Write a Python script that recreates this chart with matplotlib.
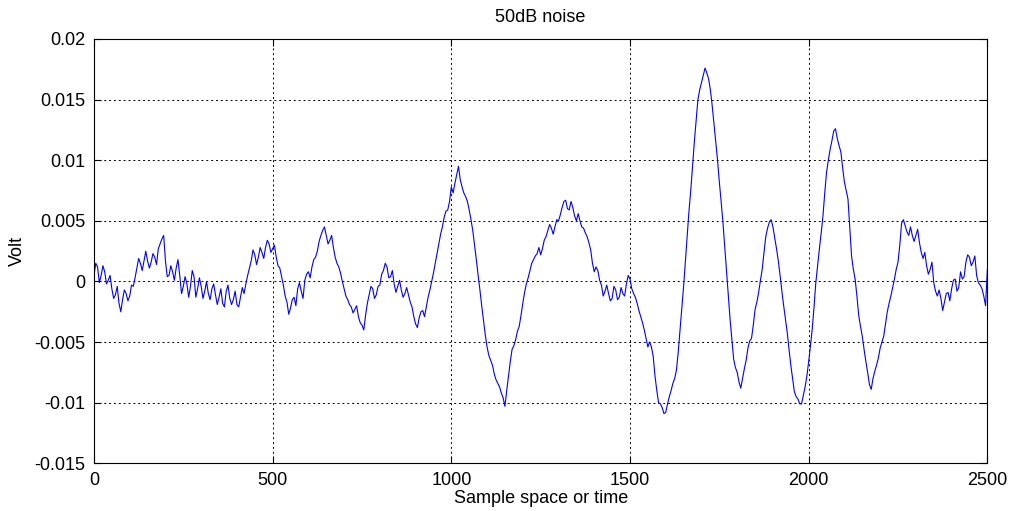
import numpy as np
import matplotlib
matplotlib.use("Agg")
import matplotlib.pyplot as plt

plt.rcParams['font.family'] = ['Liberation Sans', 'DejaVu Sans']

# Signal values (V) at samples 0, 10, 20, ..., 2500
volts_even = [
    # 0 - 400
    0.0005, 0.0012, 0.0005, 0.0008, 0.0001, -0.0006, -0.0011, -0.0018, -0.0015, -0.0010,
    -0.0012, -0.0004, 0.0011, 0.0015, 0.0017, 0.0017, 0.0016, 0.0020, 0.0027, 0.0035,
    0.0017, 0.0005, 0.0008, 0.0011, 0.0005, -0.0004, -0.0002, -0.0004, 0.0004, -0.0006,
    -0.0004, -0.0008, -0.0010, -0.0006, -0.0011, -0.0013, -0.0018, -0.0008, -0.0014, -0.0015,
    # 400 - 800
    -0.0019, -0.0013, -0.0010, 0.0005, 0.0017, 0.0022, 0.0020, 0.0024, 0.0028, 0.0031,
    0.0027, 0.0020, 0.0011, -0.0003, -0.0017, -0.0022, -0.0013, -0.0006, -0.0008, 0.0001,
    0.0008, 0.0012, 0.0020, 0.0033, 0.0042, 0.0038, 0.0034, 0.0028, 0.0015, 0.0007,
    -0.0006, -0.0015, -0.0021, -0.0023, -0.0029, -0.0036, -0.0028, -0.0011, -0.0006, -0.0011,
    # 800 - 1200
    -0.0003, 0.0009, 0.0012, 0.0004, -0.0002, -0.0004, -0.0007, -0.0010, -0.0011, -0.0021,
    -0.0035, -0.0030, -0.0024, -0.0021, -0.0007, 0.0007, 0.0023, 0.0039, 0.0053, 0.0059,
    0.0078, 0.0081, 0.0095, 0.0078, 0.0070, 0.0059, 0.0042, 0.0018, -0.0007, -0.0032,
    -0.0054, -0.0065, -0.0076, -0.0084, -0.0092, -0.0103, -0.0078, -0.0056, -0.0048, -0.0037,
    # 1200 - 1600
    -0.0018, -0.0002, 0.0009, 0.0018, 0.0023, 0.0022, 0.0034, 0.0042, 0.0044, 0.0045,
    0.0050, 0.0061, 0.0067, 0.0059, 0.0061, 0.0050, 0.0050, 0.0044, 0.0037, 0.0026,
    0.0008, 0.0009, -0.0003, -0.0008, -0.0010, -0.0014, -0.0007, -0.0013, -0.0010, -0.0002,
    0.0002, -0.0010, -0.0018, -0.0029, -0.0040, -0.0054, -0.0054, -0.0078, -0.0100, -0.0104,
    # 1600 - 2000
    -0.0108, -0.0095, -0.0084, -0.0073, -0.0040, -0.0004, 0.0039, 0.0075, 0.0115, 0.0150,
    0.0164, 0.0176, 0.0167, 0.0145, 0.0115, 0.0082, 0.0049, 0.0008, -0.0031, -0.0064,
    -0.0075, -0.0088, -0.0072, -0.0055, -0.0047, -0.0023, -0.0009, 0.0010, 0.0037, 0.0049,
    0.0045, 0.0027, 0.0005, -0.0020, -0.0042, -0.0069, -0.0091, -0.0097, -0.0101, -0.0087,
    # 2000 - 2500
    -0.0066, -0.0039, -0.0001, 0.0027, 0.0054, 0.0090, 0.0109, 0.0124, 0.0118, 0.0107,
    0.0082, 0.0068, 0.0021, 0.0002, -0.0028, -0.0045, -0.0066, -0.0085, -0.0080, -0.0069,
    -0.0055, -0.0045, -0.0025, -0.0012, 0.0002, 0.0016, 0.0048, 0.0046, 0.0038, 0.0038,
    0.0038, 0.0032, 0.0019, 0.0013, 0.0010, -0.0001, -0.0012, -0.0014, -0.0017, -0.0009,
    -0.0006, 0.0002, -0.0005, 0.0002, 0.0016, 0.0020, 0.0016, 0.0005, -0.0003, -0.0012,
    0.0010,
]

# Signal values (V) at samples 5, 15, 25, ..., 2495
volts_odd = [
    # 5 - 395
    0.0015, -0.0001, 0.0013, -0.0002, 0.0005, -0.0014, -0.0004, -0.0025, -0.0007, -0.0016,
    -0.0003, 0.0003, 0.0019, 0.0009, 0.0025, 0.0011, 0.0023, 0.0014, 0.0031, 0.0038,
    0.0004, 0.0013, 0.0001, 0.0018, -0.0010, 0.0004, -0.0013, 0.0009, -0.0013, 0.0003,
    -0.0014, 0.0000, -0.0015, -0.0002, -0.0019, -0.0006, -0.0021, -0.0003, -0.0019, -0.0008,
    # 405 - 795
    -0.0021, -0.0005, -0.0002, 0.0011, 0.0026, 0.0014, 0.0028, 0.0019, 0.0034, 0.0024,
    0.0030, 0.0013, 0.0004, -0.0012, -0.0027, -0.0015, -0.0020, -0.0001, -0.0014, 0.0006,
    0.0003, 0.0018, 0.0025, 0.0038, 0.0045, 0.0031, 0.0038, 0.0020, 0.0012, 0.0000,
    -0.0012, -0.0019, -0.0026, -0.0020, -0.0034, -0.0040, -0.0018, -0.0004, -0.0014, -0.0004,
    # 805 - 1195
    0.0006, 0.0015, 0.0003, 0.0009, -0.0009, 0.0001, -0.0013, -0.0005, -0.0017, -0.0029,
    -0.0038, -0.0025, -0.0029, -0.0013, 0.0000, 0.0015, 0.0031, 0.0045, 0.0058, 0.0066,
    0.0073, 0.0088, 0.0084, 0.0073, 0.0066, 0.0051, 0.0030, 0.0005, -0.0020, -0.0044,
    -0.0061, -0.0069, -0.0081, -0.0087, -0.0096, -0.0090, -0.0066, -0.0053, -0.0041, -0.0028,
    # 1205 - 1595
    -0.0009, 0.0003, 0.0015, 0.0021, 0.0028, 0.0027, 0.0037, 0.0047, 0.0039, 0.0051,
    0.0055, 0.0066, 0.0060, 0.0066, 0.0054, 0.0056, 0.0045, 0.0040, 0.0032, 0.0015,
    0.0012, 0.0001, -0.0012, -0.0003, -0.0016, -0.0004, -0.0015, -0.0005, -0.0012, 0.0005,
    -0.0006, -0.0013, -0.0024, -0.0034, -0.0047, -0.0050, -0.0062, -0.0090, -0.0101, -0.0109,
    # 1605 - 1995
    -0.0101, -0.0090, -0.0080, -0.0058, -0.0021, 0.0017, 0.0058, 0.0095, 0.0133, 0.0158,
    0.0170, 0.0172, 0.0158, 0.0130, 0.0100, 0.0066, 0.0029, -0.0012, -0.0048, -0.0071,
    -0.0083, -0.0080, -0.0065, -0.0049, -0.0036, -0.0017, 0.0001, 0.0024, 0.0044, 0.0051,
    0.0036, 0.0017, -0.0008, -0.0031, -0.0056, -0.0080, -0.0095, -0.0101, -0.0094, -0.0078,
    # 2005 - 2495
    -0.0053, -0.0021, 0.0013, 0.0040, 0.0073, 0.0100, 0.0116, 0.0126, 0.0112, 0.0094,
    0.0075, 0.0045, 0.0010, -0.0012, -0.0037, -0.0056, -0.0075, -0.0089, -0.0074, -0.0063,
    -0.0050, -0.0035, -0.0018, -0.0005, 0.0010, 0.0030, 0.0051, 0.0041, 0.0045, 0.0033,
    0.0043, 0.0024, 0.0024, 0.0006, 0.0016, -0.0008, -0.0007, -0.0024, -0.0010, -0.0016,
    0.0001, -0.0008, 0.0008, 0.0004, 0.0022, 0.0013, 0.0021, -0.0001, -0.0006, -0.0020,
]

x_ticks = [0, 500, 1000, 1500, 2000, 2500]
y_ticks = [-0.015, -0.01, -0.005, 0, 0.005, 0.01, 0.015, 0.02]
y_tick_labels = ['-0.015', '-0.01', '-0.005', '0', '0.005', '0.01', '0.015', '0.02']

# merge both sample grids into one trace ordered by sample index
samples = np.concatenate([np.arange(len(volts_even)) * 10,
                          np.arange(len(volts_odd)) * 10 + 5])
values = np.concatenate([volts_even, volts_odd])
order = np.argsort(samples)
samples, values = samples[order], values[order]

fig = plt.figure(figsize=(10.16, 5.11), dpi=100)
ax = fig.add_axes([0.0925, 0.0933, 0.8793, 0.8304])

ax.plot(samples, values, color='#0000ff', linewidth=0.8)

ax.set_xlim(0, 2500)
ax.set_ylim(-0.015, 0.02)
ax.set_xticks(x_ticks)
ax.set_xticklabels([str(t) for t in x_ticks])
ax.set_yticks(y_ticks)
ax.set_yticklabels(y_tick_labels)

ax.grid(True, color='black', linestyle=(0, (2, 3)), linewidth=0.7)
ax.tick_params(direction='in', length=5, width=0.8, labelsize=13,
               top=True, right=True, pad=6)
for spine in ax.spines.values():
    spine.set_linewidth(0.8)
    spine.set_color('black')

ax.set_title('50dB noise', fontsize=13, pad=12)
ax.set_xlabel('Sample space or time', fontsize=13, labelpad=1)
ax.set_ylabel('Volt', fontsize=13, labelpad=6)

fig.savefig('out.png', dpi=100)
